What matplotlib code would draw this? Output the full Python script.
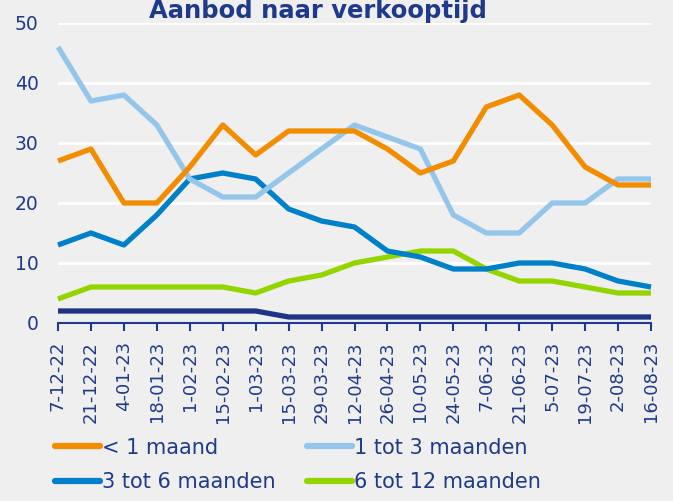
import numpy as np
import matplotlib.pyplot as plt

# Data
datums = ["7-12-22", "21-12-22", "4-01-23", "18-01-23", "1-02-23", "15-02-23",
          "1-03-23", "15-03-23", "29-03-23", "12-04-23", "26-04-23", "10-05-23",
          "24-05-23", "7-06-23", "21-06-23", "5-07-23", "19-07-23", "2-08-23",
          "16-08-23"]
minder_1 = [27, 29, 20, 20, 26, 33, 28, 32, 32, 32, 29, 25, 27, 36, 38, 33, 26, 23, 23]
tot_3 = [46, 37, 38, 33, 24, 21, 21, 25, 29, 33, 31, 29, 18, 15, 15, 20, 20, 24, 24]
tot_6 = [13, 15, 13, 18, 24, 25, 24, 19, 17, 16, 12, 11, 9, 9, 10, 10, 9, 7, 6]
tot_12 = [4, 6, 6, 6, 6, 6, 5, 7, 8, 10, 11, 12, 12, 9, 7, 7, 6, 5, 5]
meer_12 = [2, 2, 2, 2, 2, 2, 2, 1, 1, 1, 1, 1, 1, 1, 1, 1, 1, 1, 1]

# kleuren
bg = "#efefef"
tekst = "#1f3a8a"
oranje = "#f28c00"
lichtblauw = "#93c6ea"
blauw = "#0080c8"
groen = "#93d500"
navy = "#1f3583"

plt.rcParams['font.family'] = ['DejaVu Sans']

fig = plt.figure(figsize=(6.73, 5.01), dpi=100, facecolor=bg)
ax = fig.add_axes([58/673, 1-323/501, (651-58)/673, 300/501], facecolor=bg)

x = np.arange(len(datums))
lw = 3.8
ax.plot(x, meer_12, color=navy, lw=lw, solid_capstyle="butt")
l12, = ax.plot(x, tot_12, color=groen, lw=lw, label="6 tot 12 maanden", solid_capstyle="butt")
l6, = ax.plot(x, tot_6, color=blauw, lw=lw, label="3 tot 6 maanden", solid_capstyle="butt")
l3, = ax.plot(x, tot_3, color=lichtblauw, lw=lw, label="1 tot 3 maanden", solid_capstyle="butt")
l1, = ax.plot(x, minder_1, color=oranje, lw=lw, label="< 1 maand", solid_capstyle="butt")

ax.set_xlim(0, len(datums)-1)
ax.set_ylim(0, 50)
ax.set_yticks(np.arange(0, 51, 10))
ax.set_xticks(x)
ax.set_xticklabels(datums, rotation=90)
ax.grid(axis="y", color="white", lw=2)
ax.set_axisbelow(True)
for s in ["top", "right", "left"]:
    ax.spines[s].set_visible(False)
ax.spines["bottom"].set_color(tekst)
ax.spines["bottom"].set_linewidth(1.5)
ax.tick_params(axis="x", colors=tekst, labelsize=13, length=6, width=1.5,
               direction="out", pad=7)
ax.tick_params(axis="y", colors=tekst, labelsize=13.5, length=0, pad=14)
for ln in ax.lines:
    ln.set_clip_on(False)

fig.text(318/673, 1-11/501, "Aanbod naar verkooptijd", ha="center", va="center",
         fontsize=17.5, fontweight="bold", color=tekst)

# rijen: < 1 maand, 1 tot 3 / 3 tot 6, 6 tot 12
leg = fig.legend([l1, l6, l3, l12],
                 ["< 1 maand", "3 tot 6 maanden", "1 tot 3 maanden", "6 tot 12 maanden"],
                 loc="center left", bbox_to_anchor=(36/673, 1-465/501), ncol=2,
                 frameon=False, fontsize=15, handlelength=2.16, handletextpad=0.1,
                 columnspacing=1.5, labelspacing=0.7, labelcolor=tekst)
for lh in leg.get_lines():
    lh.set_linewidth(4.5)
    lh.set_solid_capstyle("round")

fig.savefig("out.png", dpi=100, facecolor=bg)
